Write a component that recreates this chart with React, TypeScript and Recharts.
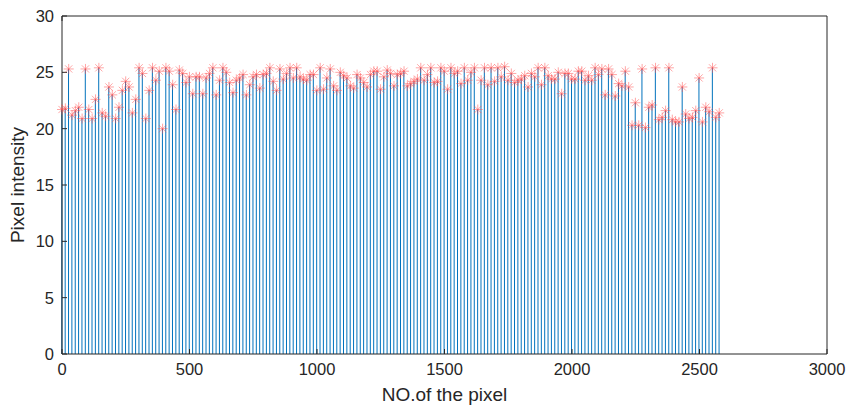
import React from 'react';
import { ComposedChart, Bar, Scatter, XAxis, YAxis, Label } from 'recharts';

const STEP = 13.15;
const intensity: number[] = [
  21.7, 21.8, 25.3, 21.2, 21.6, 21.9, 20.9, 25.3, 21.7, 20.9, 22.6, 25.4, 21.4, 21.1, 23.7, 23.0,
  20.9, 21.9, 23.4, 24.2, 23.7, 21.4, 22.6, 25.4, 24.9, 20.9, 23.4, 25.4, 24.3, 25.1, 20.0, 25.4,
  25.1, 23.9, 21.7, 25.2, 24.9, 24.1, 24.6, 23.1, 24.6, 24.6, 23.1, 24.5, 24.9, 25.4, 23.0, 24.3,
  25.4, 25.0, 24.1, 23.2, 24.3, 24.5, 24.8, 23.0, 23.9, 24.6, 24.8, 23.6, 24.8, 24.9, 25.4, 24.2,
  23.4, 25.3,
  24.4, 24.9, 25.4, 24.5, 25.4, 24.6, 24.4, 24.3, 24.8, 24.8, 23.4, 25.4, 23.5, 24.5, 25.3, 23.8,
  23.4, 25.0, 24.7, 24.5, 23.8, 23.6, 24.8, 24.5, 24.1, 23.7, 24.8, 25.1, 25.1, 23.5, 24.6, 25.2,
  24.9, 23.8, 24.8, 24.9, 25.1, 23.8, 24.0, 24.2, 24.4, 25.4, 24.3, 24.8, 25.4, 24.1, 24.2, 25.4,
  25.1, 23.5, 25.4, 24.9, 25.1, 24.0, 25.4, 24.3, 25.0, 25.4, 21.7, 24.3, 25.4, 23.9, 25.4, 24.2,
  25.4,
  24.6, 25.5, 24.3, 24.9, 24.1, 24.3, 24.4, 24.7, 23.7, 24.9, 24.6, 25.4, 23.9, 25.4, 24.7, 24.4,
  24.4, 25.0, 23.1, 24.9, 24.9, 24.4, 24.4, 25.1, 25.1, 24.3, 24.7, 24.3, 25.4, 24.8, 25.3, 23.0,
  25.3, 24.8, 22.9, 24.0, 23.8, 25.1, 23.7, 20.3, 22.3, 20.3, 25.3, 20.1, 21.9, 22.1, 25.4, 20.8,
  21.0, 21.6, 25.4, 20.8, 20.6, 20.6, 23.7, 21.3, 20.9, 21.0, 21.6, 24.5, 20.6, 21.9, 21.5, 25.4,
  21.0, 21.4,
];
const xTicks = [0, 500, 1000, 1500, 2000, 2500, 3000];
const yTicks = [0, 5, 10, 15, 20, 25, 30];

const data = intensity.map((v, i) => ({ x: i * STEP, y: v }));

const AX = '#262626';
const FONT = '"Liberation Sans", Arial, Helvetica, sans-serif';

const Asterisk = (props: any) => {
  const { cx, cy } = props;
  if (cx == null || cy == null) return null;
  const r = 5;
  const d = r * 0.72;
  return (
    <g stroke="#ff4d4d" strokeOpacity={0.5} strokeWidth={1} fill="none">
      <line x1={cx - r} y1={cy} x2={cx + r} y2={cy} />
      <line x1={cx} y1={cy - r} x2={cx} y2={cy + r} />
      <line x1={cx - d} y1={cy - d} x2={cx + d} y2={cy + d} />
      <line x1={cx - d} y1={cy + d} x2={cx + d} y2={cy - d} />
    </g>
  );
};

export default function App() {
  const tickStyle = { fill: AX, fontSize: 16.5, fontFamily: FONT };
  return (
    <div style={{ position: 'absolute', left: 0, top: 0, background: '#fff' }}>
      <ComposedChart width={861} height={406} data={data} margin={{ top: 0, right: 0, bottom: 0, left: 0 }}>
        <XAxis
          dataKey="x"
          type="number"
          domain={[0, 3000]}
          ticks={xTicks}
          height={52}
          stroke={AX}
          tick={tickStyle}
          tickSize={-5}
          tickMargin={14}
          interval={0}
        >
          <Label value="NO.of the pixel" position="insideBottom" offset={5} style={{ fill: AX, fontSize: 19, fontFamily: FONT }} />
        </XAxis>
        <XAxis
          xAxisId="top"
          orientation="top"
          type="number"
          domain={[0, 3000]}
          ticks={xTicks}
          height={16}
          stroke={AX}
          tickSize={-5}
          tickFormatter={() => ''}
          interval={0}
        />
        <YAxis
          type="number"
          domain={[0, 30]}
          ticks={yTicks}
          width={62}
          stroke={AX}
          tick={tickStyle}
          tickSize={-5}
          tickMargin={13}
          interval={0}
        >
          <Label value="Pixel intensity" angle={-90} position="insideLeft" offset={17} style={{ fill: AX, fontSize: 19, fontFamily: FONT, textAnchor: 'middle' }} />
        </YAxis>
        <YAxis
          yAxisId="right"
          orientation="right"
          type="number"
          domain={[0, 30]}
          ticks={yTicks}
          width={34}
          stroke={AX}
          tickSize={-5}
          tickFormatter={() => ''}
          interval={0}
        />
        <Bar dataKey="y" barSize={1} fill="#0072BD" isAnimationActive={false} />
        <Scatter dataKey="y" shape={<Asterisk />} isAnimationActive={false} />
      </ComposedChart>
    </div>
  );
}
